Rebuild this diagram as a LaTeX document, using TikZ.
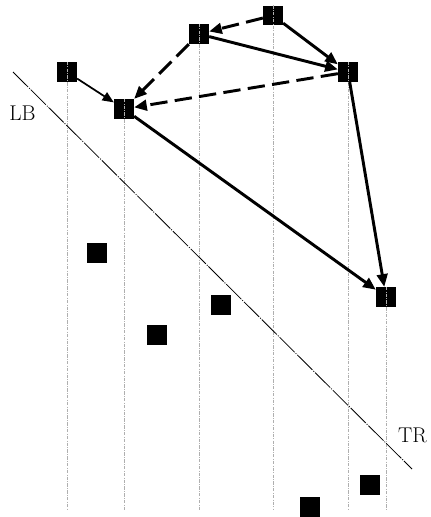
\documentclass[tikz,border=0pt]{standalone}
\usetikzlibrary{arrows.meta}

\tikzset{every picture/.style={line width=0.75pt}}
\tikzset{
  sq/.style={fill=black, inner sep=0pt, minimum size=14.5pt},
  lane/.style={draw={rgb, 255:red, 175; green, 175; blue, 175}, line width=0.6pt, dash pattern=on 2.5pt off 1pt on 0.6pt off 1pt},
  split/.style={line width=0.6pt, dash pattern=on 16pt off 1pt on 0.8pt off 1pt},
  thinarr/.style={line width=1.3pt, -{Triangle[length=8.5pt,width=7pt]}},
  thickarr/.style={line width=2.2pt, -{Triangle[length=9.5pt,width=8pt]}},
  dasharr/.style={thickarr, dash pattern=on 13pt off 5.5pt},
  lbl/.style={font=\fontsize{16}{18}\selectfont},
}

\begin{document}
\begin{tikzpicture}[x=0.75pt,y=0.75pt,yscale=-1,xscale=1]
\useasboundingbox (0,0) rectangle (430,517);

%Shape: Squares with a lane
\node [sq] (s1) at (67,72) {};
\node [sq] (s2) at (124,109) {};
\node [sq] (s3) at (199,34) {};
\node [sq] (s4) at (273,15.5) {};
\node [sq] (s5) at (348,72) {};
\node [sq] (s6) at (386,297) {};
%Shape: Squares without a lane
\node [sq] (p1) at (97,253) {};
\node [sq] (p2) at (221,305) {};
\node [sq] (p3) at (157,335) {};
\node [sq] (p4) at (370,485) {};
\node [sq] (p5) at (310,507) {};

%Straight Lines: lanes down to the floor
\coordinate (floor) at (0,510);
\foreach \s in {s1,s2,s3,s4,s5,s6}
  \draw [lane] (\s.north) -- (\s.north |- floor);

%Straight Lines: splitting line
\coordinate (lbend) at (13,72);
\coordinate (trend) at (412,469);
\draw [split] (lbend) -- (trend);

%Arrows
\draw [thinarr] (s1) -- (s2);
\draw [dasharr] (s3) -- (s2);
\draw [dasharr] (s5) -- (s2);
\draw [dasharr] (s4) -- (s3);
\draw [thickarr] (s4) -- (s5);
\draw [thickarr] (s3) -- (s5);
\draw [thickarr] (s2) -- (s6);
\draw [thickarr] (s5) -- (s6);

% Text Node
\node [lbl] (lb) at (22.5,113.5) {LB};
% Text Node
\node [lbl] (tr) at (412.5,435.5) {TR};

\end{tikzpicture}
\end{document}
